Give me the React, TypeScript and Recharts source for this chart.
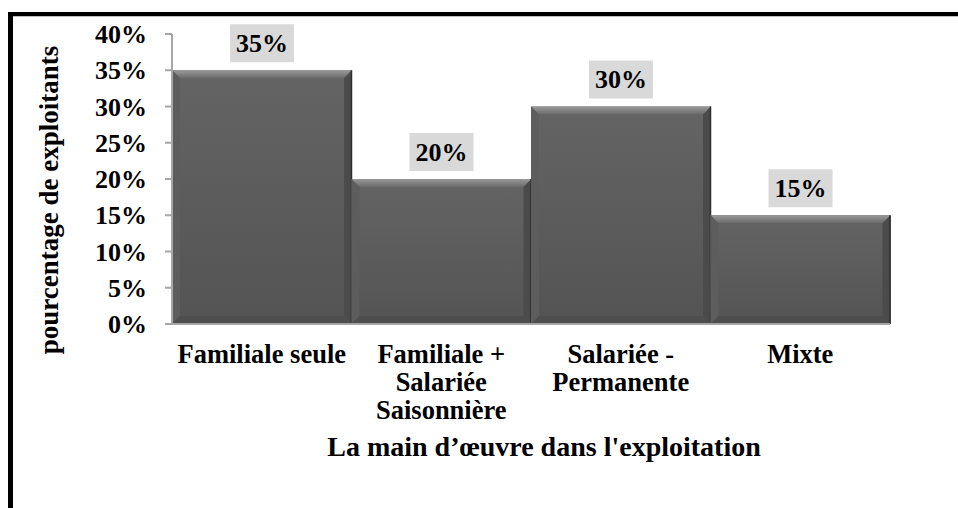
import React from "react";
import { BarChart, Bar, XAxis, YAxis, LabelList } from "recharts";

const categories = [
  "Familiale seule",
  "Familiale +\nSalariée\nSaisonnière",
  "Salariée -\nPermanente",
  "Mixte",
];
const values = [35, 20, 30, 15];
const yTicks = [0, 5, 10, 15, 20, 25, 30, 35, 40];
const yTitle = "pourcentage de exploitants";
const xTitle = "La main d\u2019\u0153uvre dans l'exploitation";

const data = categories.map((c, i) => ({ name: c, value: values[i] }));

const FONT = "'Liberation Serif', 'Times New Roman', serif";

const BevelBar = (props: any) => {
  const { x, y, width, height } = props;
  if (!height || height <= 0) return null;
  const b = 8;
  return (
    <g>
      <rect x={x} y={y} width={width} height={height} fill="url(#barBody)" />
      <polygon
        points={`${x},${y} ${x + width},${y} ${x + width - b},${y + b} ${x + b},${y + b}`}
        fill="url(#barTop)"
      />
      <polygon
        points={`${x},${y} ${x + b},${y + b} ${x + b},${y + height - b} ${x},${y + height}`}
        fill="#5d5d5d"
      />
      <polygon
        points={`${x + width},${y} ${x + width},${y + height} ${x + width - b},${y + height - b} ${x + width - b},${y + b}`}
        fill="#4b4b4b"
      />
      <polygon
        points={`${x},${y + height} ${x + b},${y + height - b} ${x + width - b},${y + height - b} ${x + width},${y + height}`}
        fill="#4e4e4e"
      />
      <line x1={x + width - 0.5} y1={y} x2={x + width - 0.5} y2={y + height} stroke="#2e2e2e" strokeWidth={1.5} />
    </g>
  );
};

const ValueLabel = (props: any) => {
  const { x, y, width, value } = props;
  const cx = x + width / 2;
  const bw = 64;
  const bh = 38;
  return (
    <g>
      <rect x={cx - bw / 2} y={y - 8 - bh} width={bw} height={bh} fill="#d9d9d9" />
      <text
        x={cx}
        y={y - 8 - bh / 2}
        textAnchor="middle"
        dominantBaseline="central"
        fontFamily={FONT}
        fontWeight="bold"
        fontSize={26}
        fill="#000"
      >
        {`${value}%`}
      </text>
    </g>
  );
};

const XTick = (props: any) => {
  const { x, y, payload } = props;
  const lines = String(payload.value).split("\n");
  return (
    <text
      x={x}
      y={y + 39}
      textAnchor="middle"
      fontFamily={FONT}
      fontWeight="bold"
      fontSize={26.5}
      fill="#000"
    >
      {lines.map((l, i) => (
        <tspan key={i} x={x} dy={i === 0 ? 0 : 28}>
          {l}
        </tspan>
      ))}
    </text>
  );
};

const YTitle = (props: any) => {
  const { viewBox } = props;
  const cy = viewBox.y + viewBox.height / 2 + 21;
  const tx = 58;
  return (
    <text
      x={tx}
      y={cy}
      transform={`rotate(-90, ${tx}, ${cy})`}
      textAnchor="middle"
      fontFamily={FONT}
      fontWeight="bold"
      fontSize={27}
      fill="#000"
    >
      {yTitle}
    </text>
  );
};

const XTitle = (props: any) => {
  const { viewBox } = props;
  const cx = viewBox.x + viewBox.width / 2 + 13;
  return (
    <text
      x={cx}
      y={viewBox.y + 132}
      textAnchor="middle"
      fontFamily={FONT}
      fontWeight="bold"
      fontSize={28}
      fill="#000"
    >
      {xTitle}
    </text>
  );
};

export default function App() {
  return (
    <div style={{ position: "fixed", left: 0, top: 0, width: 958, height: 508, background: "#fff", overflow: "hidden" }}>
      <div style={{ position: "absolute", left: 8, top: 12, width: 950, height: 4, background: "#000" }} />
      <div style={{ position: "absolute", left: 8, top: 16, width: 950, height: 1, background: "#c0c0c0" }} />
      <div style={{ position: "absolute", left: 8, top: 12, width: 5, height: 496, background: "#000" }} />
      <div style={{ position: "absolute", left: 0, top: 0 }}>
        <BarChart
          width={958}
          height={508}
          data={data}
          margin={{ top: 34, right: 68, bottom: 34, left: 0 }}
          barCategoryGap={0}
        >
          <defs>
            <linearGradient id="barBody" x1="0" y1="0" x2="0" y2="1">
              <stop offset="0%" stopColor="#646464" />
              <stop offset="100%" stopColor="#545454" />
            </linearGradient>
            <linearGradient id="barTop" x1="0" y1="0" x2="0" y2="1">
              <stop offset="0%" stopColor="#9a9a9a" />
              <stop offset="100%" stopColor="#6a6a6a" />
            </linearGradient>
          </defs>
          <XAxis
            dataKey="name"
            height={150}
            interval={0}
            tickLine={false}
            tickSize={0}
            tickMargin={0}
            axisLine={{ stroke: "#a6a6a6", strokeWidth: 2 }}
            tick={<XTick />}
            label={<XTitle />}
          />
          <YAxis
            width={172}
            domain={[0, 40]}
            ticks={yTicks}
            interval={0}
            tickFormatter={(v: number) => `${v}%`}
            tickSize={7}
            tickMargin={18}
            tickLine={{ stroke: "#a6a6a6", strokeWidth: 2 }}
            axisLine={{ stroke: "#a6a6a6", strokeWidth: 2 }}
            tick={{ fontFamily: FONT, fontWeight: "bold", fontSize: 26, fill: "#000" }}
            label={<YTitle />}
          />
          <Bar dataKey="value" shape={<BevelBar />} isAnimationActive={false}>
            <LabelList dataKey="value" content={<ValueLabel />} />
          </Bar>
        </BarChart>
      </div>
    </div>
  );
}
